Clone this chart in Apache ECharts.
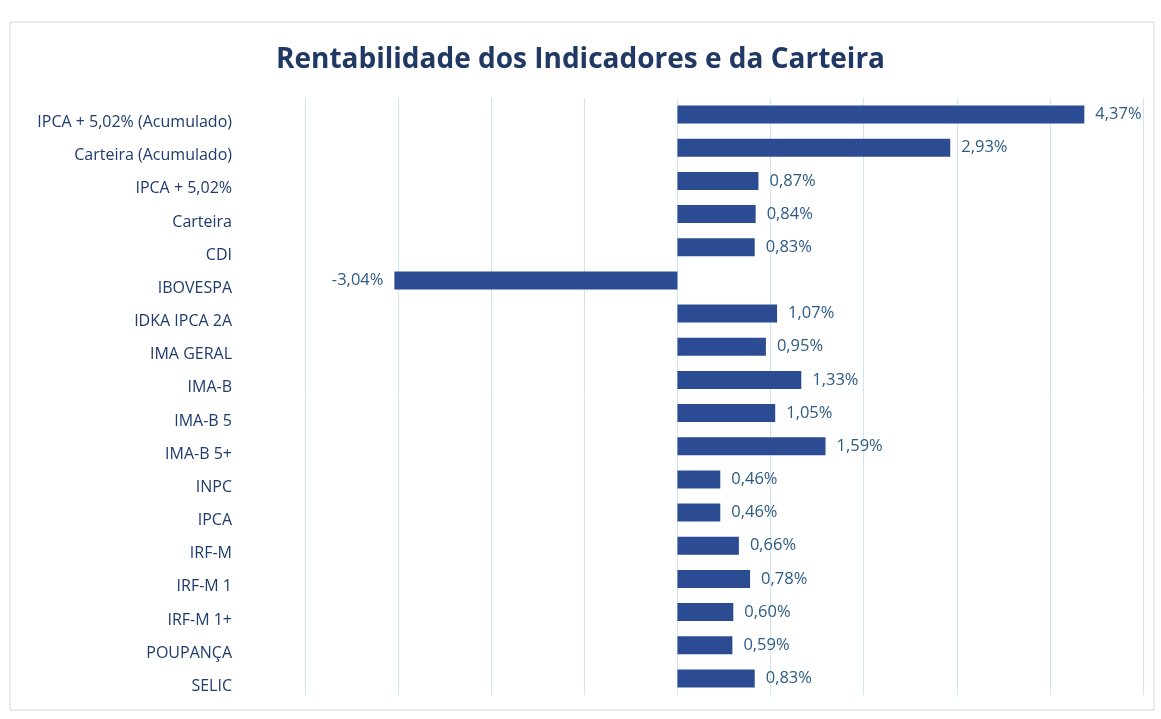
<!DOCTYPE html>
<html>
<head>
<meta charset="utf-8">
<script src="https://cdn.jsdelivr.net/npm/echarts@6/dist/echarts.min.js"></script>
<style>
  html, body { margin: 0; padding: 0; background: #fff; }
  #chart { width: 1161px; height: 719px; }
</style>
</head>
<body>
<div id="chart"></div>
<script>
// categorias (de cima para baixo)
var categorias = [
  'IPCA + 5,02% (Acumulado)', 'Carteira (Acumulado)', 'IPCA + 5,02%', 'Carteira', 'CDI',
  'IBOVESPA', 'IDKA IPCA 2A', 'IMA GERAL', 'IMA-B', 'IMA-B 5', 'IMA-B 5+', 'INPC',
  'IPCA', 'IRF-M', 'IRF-M 1', 'IRF-M 1+', 'POUPANÇA', 'SELIC'
]
// rentabilidade em %
var rentabilidade = [
  4.37, 2.93, 0.87, 0.84, 0.83, -3.04, 1.07, 0.95, 1.33, 1.05, 1.59, 0.46,
  0.46, 0.66, 0.78, 0.60, 0.59, 0.83
]

var chart = echarts.init(document.getElementById('chart'))

function fmt(v) {
  return v.toFixed(2).replace('.', ',') + '%'
}

chart.setOption({
  textStyle: { fontFamily: 'Open Sans' },
  title: {
    text: 'Rentabilidade dos Indicadores e da Carteira',
    left: 'center',
    top: 41,
    textStyle: { fontSize: 28, fontWeight: 'bold', color: '#1f3864', fontFamily: 'Open Sans' }
  },
  graphic: [{
    type: 'rect',
    shape: { x: 10, y: 22, width: 1144, height: 688 },
    style: { fill: 'none', stroke: '#d6d6d6', lineWidth: 1 },
    silent: true
  }],
  grid: { left: 305, right: 18, top: 98, bottom: 24 },
  xAxis: {
    type: 'value',
    min: -4,
    max: 5,
    interval: 1,
    axisLabel: { show: false },
    axisLine: { show: false },
    axisTick: { show: false },
    splitLine: { lineStyle: { color: '#cfe6f2', width: 1 } }
  },
  yAxis: {
    type: 'category',
    inverse: true,
    data: categorias,
    axisLine: { show: false },
    axisTick: { show: false },
    // no original os rótulos ficam um pouco abaixo das barras
    axisLabel: { margin: 73, fontSize: 16, color: '#1f3a6e', verticalAlign: 'top', lineHeight: 16 }
  },
  series: [{
    type: 'bar',
    barWidth: 18,
    itemStyle: { color: '#2b4c93' },
    label: {
      show: true,
      position: 'right',
      distance: 11,
      fontSize: 16.5,
      color: '#2c5a85',
      formatter: function (p) { return fmt(p.value) }
    },
    data: rentabilidade.map(function (v) {
      return v < 0 ? { value: v, label: { position: 'left' } } : v
    })
  }]
})
</script>
</body>
</html>
